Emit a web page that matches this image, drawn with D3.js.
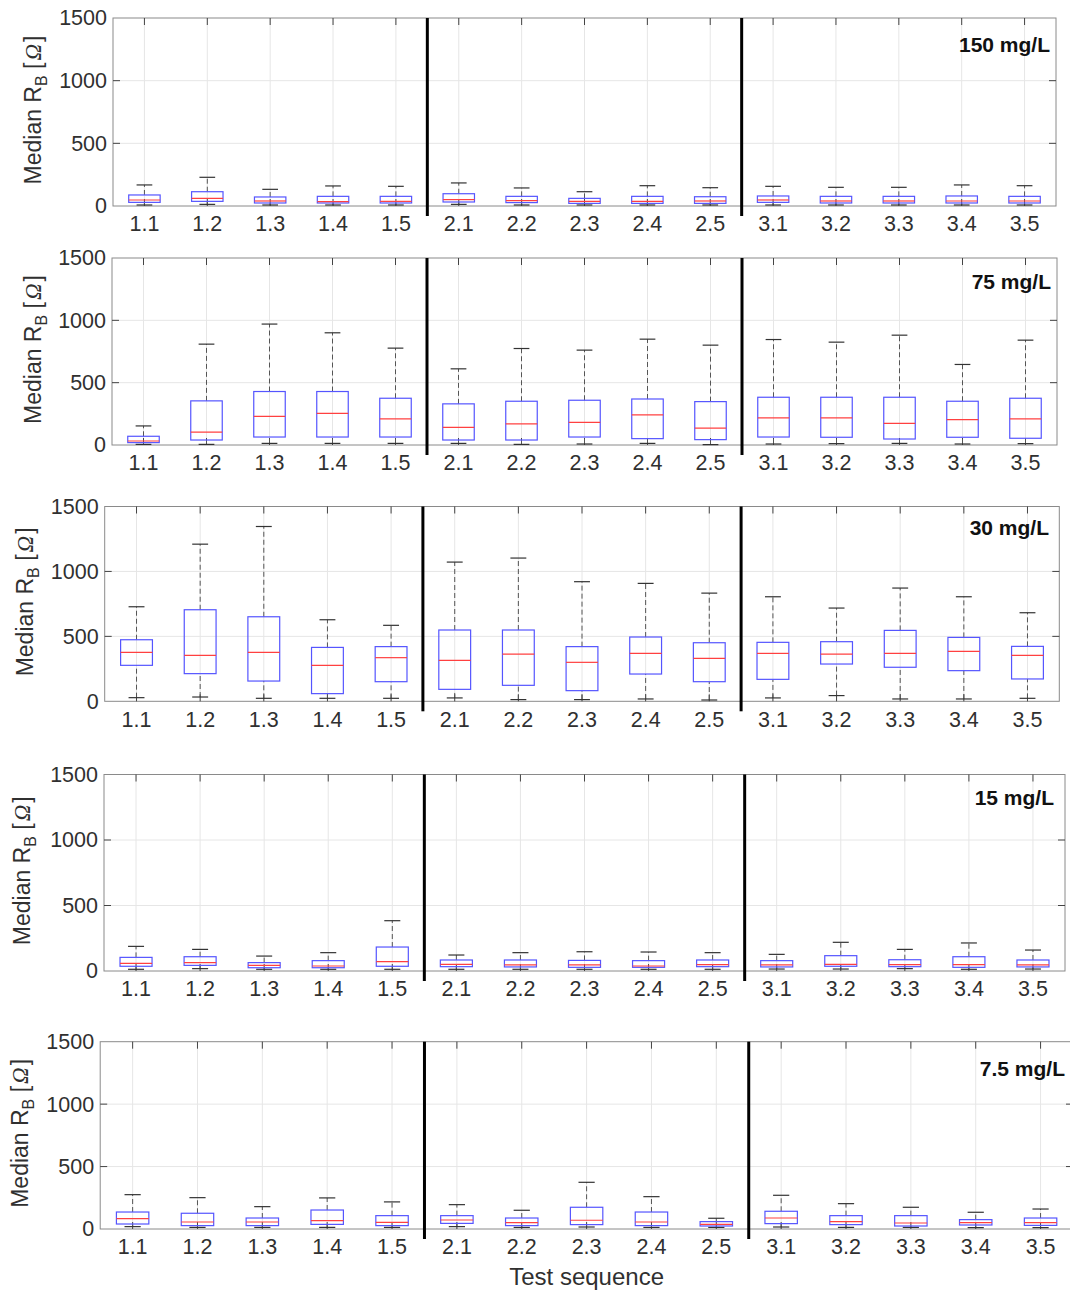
<!DOCTYPE html>
<html>
<head>
<meta charset="utf-8">
<script src="https://cdn.jsdelivr.net/npm/d3@7"></script>
<style>
  html, body { margin: 0; padding: 0; background: #fff; }
  svg { display: block; }
  text { font-family: "Liberation Sans", Arial, Helvetica, sans-serif; }
</style>
</head>
<body>
<svg id="chart" width="1070" height="1290"></svg>
<script>
// ---------------- DATA ----------------
const categories = ["1.1","1.2","1.3","1.4","1.5","2.1","2.2","2.3","2.4","2.5","3.1","3.2","3.3","3.4","3.5"];
const yTicks = [0, 500, 1000, 1500];
const panelLabels = ["150 mg/L", "75 mg/L", "30 mg/L", "15 mg/L", "7.5 mg/L"];
const dividerAfter = ["1.5", "2.5"];
const yTitle = "Median R";
const xTitle = "Test sequence";

// each entry: [lower whisker, Q1, median, Q3, upper whisker]
const box150 = [
  [8,29,48,88,168],[13,37,61,114,229],[8,24,40,72,133],[8,24,35,77,160],[8,24,37,77,157],
  [13,32,51,98,184],[8,27,43,77,144],[8,21,37,61,114],[8,21,37,77,162],[8,21,40,74,146],
  [8,29,48,80,157],[8,24,40,77,149],[8,24,40,77,149],[8,24,40,80,168],[8,24,40,77,162]
];
const box75 = [
  [5,19,32,70,153],[5,40,104,354,809],[13,64,230,429,970],[13,64,254,429,900],[13,64,209,375,777],
  [13,40,142,330,611],[5,40,169,351,774],[8,64,182,359,761],[13,51,241,369,849],[3,43,136,348,801],
  [8,64,217,383,846],[11,62,217,383,825],[13,48,174,383,881],[8,62,203,351,646],[11,54,209,375,841]
];
const box30 = [
  [28,277,377,474,728],[33,213,354,705,1210],[23,156,377,651,1346],[23,59,277,415,628],[23,151,336,421,585],
  [26,92,315,549,1072],[13,123,364,549,1103],[13,82,300,421,921],[18,210,369,495,908],[10,151,331,451,833],
  [26,169,369,454,805],[44,287,364,459,718],[18,262,369,546,872],[18,236,385,492,805],[23,172,354,423,682]
];
const box15 = [
  [13,36,58,104,188],[18,43,64,109,165],[13,25,43,64,114],[13,25,38,79,140],[13,36,71,183,384],
  [13,33,51,84,122],[13,31,46,84,140],[13,28,46,81,147],[13,28,38,79,145],[13,33,48,84,140],
  [15,31,46,79,127],[15,36,51,117,219],[18,33,48,86,165],[13,28,48,109,214],[15,31,46,84,160]
];
const box7_5 = [
  [19,40,83,136,275],[13,27,56,126,251],[13,27,56,88,179],[13,37,67,152,249],[13,27,53,107,217],
  [19,45,72,107,195],[13,27,51,88,150],[16,35,70,174,374],[13,27,56,136,259],[13,24,37,59,86],
  [16,43,88,142,270],[13,35,59,107,203],[13,24,48,107,174],[11,32,51,75,134],[11,29,51,88,160]
];
const panelData = [box150, box75, box30, box15, box7_5];

// ---------------- LAYOUT ----------------
const panels = [
  {left:113, right:1056, top:18,    bottom:206,  titleX:33, labelRight:1050, labelY:45},
  {left:112, right:1057, top:258,   bottom:445,  titleX:33, labelRight:1051, labelY:282},
  {left:104.7,right:1059.3,top:506.5,bottom:701.3,titleX:25, labelRight:1049, labelY:528},
  {left:104, right:1065, top:774.5, bottom:971,  titleX:22, labelRight:1054, labelY:798},
  {left:100.2,right:1073, top:1041.7,bottom:1229, titleX:20, labelRight:1065, labelY:1069}
];

const svg = d3.select("#chart");
const textColor = "#303030";
const gridColor = "#e6e6e6";
const boxColor = "#8a8a8a";
const tickFont = 21.5;

panels.forEach((p, pi) => {
  const data = panelData[pi];
  const x = d3.scaleBand().domain(categories).range([p.left, p.right]).paddingInner(0).paddingOuter(0);
  const y = d3.scaleLinear().domain([0, 1500]).range([p.bottom, p.top]);
  const step = x.step();
  const cx = c => x(c) + step / 2;
  const g = svg.append("g");

  // grid
  g.selectAll(".vgrid").data(categories).join("line")
    .attr("x1", d => cx(d)).attr("x2", d => cx(d))
    .attr("y1", p.top).attr("y2", p.bottom)
    .attr("stroke", gridColor).attr("stroke-width", 1);
  g.selectAll(".hgrid").data(yTicks.filter(t => t > 0 && t < 1500)).join("line")
    .attr("x1", p.left).attr("x2", p.right)
    .attr("y1", d => y(d)).attr("y2", d => y(d))
    .attr("stroke", gridColor).attr("stroke-width", 1);

  // border
  g.append("rect").attr("x", p.left).attr("y", p.top)
    .attr("width", p.right - p.left).attr("height", p.bottom - p.top)
    .attr("fill", "none").attr("stroke", boxColor).attr("stroke-width", 1);

  // inner ticks top / bottom
  categories.forEach(c => {
    g.append("line").attr("x1", cx(c)).attr("x2", cx(c)).attr("y1", p.top).attr("y2", p.top + 7)
      .attr("stroke", "#444").attr("stroke-width", 1);
    g.append("line").attr("x1", cx(c)).attr("x2", cx(c)).attr("y1", p.bottom).attr("y2", p.bottom - 7)
      .attr("stroke", "#444").attr("stroke-width", 1);
  });
  yTicks.filter(t => t > 0 && t < 1500).forEach(t => {
    g.append("line").attr("x1", p.left).attr("x2", p.left + 7).attr("y1", y(t)).attr("y2", y(t))
      .attr("stroke", "#444").attr("stroke-width", 1);
    g.append("line").attr("x1", p.right).attr("x2", p.right - 7).attr("y1", y(t)).attr("y2", y(t))
      .attr("stroke", "#444").attr("stroke-width", 1);
  });

  // axes (labels only)
  const xAxis = g.append("g").attr("transform", `translate(0,${p.bottom})`)
    .call(d3.axisBottom(x).tickSize(0).tickPadding(10));
  xAxis.select(".domain").remove();
  xAxis.selectAll("text").attr("font-size", tickFont).attr("fill", textColor)
    .attr("font-family", "Liberation Sans, Arial, sans-serif");

  const yAxis = g.append("g").attr("transform", `translate(${p.left},0)`)
    .call(d3.axisLeft(y).tickValues(yTicks).tickSize(0).tickPadding(6).tickFormat(d3.format("d")));
  yAxis.select(".domain").remove();
  yAxis.selectAll("text").attr("font-size", tickFont).attr("fill", textColor)
    .attr("font-family", "Liberation Sans, Arial, sans-serif");

  // boxes
  const boxW = step * 0.5;
  const capW = step * 0.25;
  const bx = g.selectAll(".bx").data(data.map((d, i) => ({c: categories[i], v: d}))).join("g");
  bx.append("line").attr("x1", d => cx(d.c)).attr("x2", d => cx(d.c))
    .attr("y1", d => y(d.v[3])).attr("y2", d => y(d.v[4]))
    .attr("stroke", "#555").attr("stroke-width", 1).attr("stroke-dasharray", "5,3");
  bx.append("line").attr("x1", d => cx(d.c)).attr("x2", d => cx(d.c))
    .attr("y1", d => y(d.v[0])).attr("y2", d => y(d.v[1]))
    .attr("stroke", "#555").attr("stroke-width", 1).attr("stroke-dasharray", "5,3");
  bx.append("line").attr("x1", d => cx(d.c) - capW / 2).attr("x2", d => cx(d.c) + capW / 2)
    .attr("y1", d => y(d.v[4])).attr("y2", d => y(d.v[4]))
    .attr("stroke", "#333").attr("stroke-width", 1.2);
  bx.append("line").attr("x1", d => cx(d.c) - capW / 2).attr("x2", d => cx(d.c) + capW / 2)
    .attr("y1", d => y(d.v[0])).attr("y2", d => y(d.v[0]))
    .attr("stroke", "#333").attr("stroke-width", 1.2);
  bx.append("rect").attr("x", d => cx(d.c) - boxW / 2).attr("width", boxW)
    .attr("y", d => y(d.v[3])).attr("height", d => y(d.v[1]) - y(d.v[3]))
    .attr("fill", "none").attr("stroke", "#5555ff").attr("stroke-width", 1.2);
  bx.append("line").attr("x1", d => cx(d.c) - boxW / 2).attr("x2", d => cx(d.c) + boxW / 2)
    .attr("y1", d => y(d.v[2])).attr("y2", d => y(d.v[2]))
    .attr("stroke", "#ff4040").attr("stroke-width", 1.2);

  // dividers
  dividerAfter.forEach(c => {
    const xv = x(c) + step;
    g.append("line").attr("x1", xv).attr("x2", xv).attr("y1", p.top).attr("y2", p.bottom + 10)
      .attr("stroke", "#000").attr("stroke-width", 3);
  });

  // concentration label
  g.append("text").attr("x", p.labelRight).attr("y", p.labelY).attr("dy", "0.35em")
    .attr("text-anchor", "end").attr("font-weight", "bold").attr("font-size", 21)
    .attr("fill", "#111").text(panelLabels[pi]);

  // y title
  const cy = (p.top + p.bottom) / 2 - 2;
  const t = g.append("text")
    .attr("transform", `translate(${p.titleX},${cy}) rotate(-90)`)
    .attr("text-anchor", "middle").attr("dy", "0.35em")
    .attr("font-size", 23).attr("fill", textColor);
  t.append("tspan").text(yTitle);
  t.append("tspan").attr("font-size", 16).attr("dy", "0.35em").text("B");
  t.append("tspan").attr("dy", "-0.25em").text("  [");
  t.append("tspan").attr("font-family", "Liberation Serif, serif").attr("font-style", "italic")
    .attr("dx", 2).text("Ω");
  t.append("tspan").attr("dx", 2).text("]");
});

// x title
const p5 = panels[4];
svg.append("text").attr("x", (p5.left + p5.right) / 2).attr("y", 1277).attr("dy", "0.35em")
  .attr("text-anchor", "middle").attr("font-size", 24).attr("fill", textColor).text(xTitle);
</script>
</body>
</html>
